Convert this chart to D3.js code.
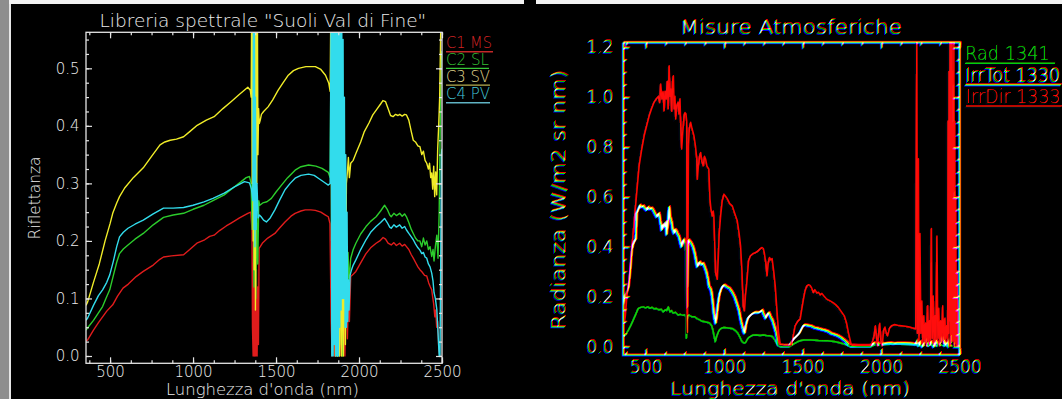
<!DOCTYPE html>
<html>
<head>
<meta charset="utf-8">
<script src="https://cdn.jsdelivr.net/npm/d3@7"></script>
<style>
  body { margin: 0; background: #000; overflow: hidden; }
  svg text { font-family: "DejaVu Sans ExtraLight", "DejaVu Sans", sans-serif; font-weight: 200; }
</style>
</head>
<body>
<div id="viz"></div>
<script>
// ---- left panel: soil reflectance library, [wavelength nm, reflectance]
const c1MS = [[355,0.026],[365,0.028],[400,0.045],[430,0.058],[455,0.068],[480,0.078],[516,0.089],[545,0.104],[578,0.118],[610,0.125],[657,0.138],[700,0.147],[760,0.158],[800,0.168],[822,0.172],[870,0.174],[943,0.176],[980,0.185],[1023,0.196],[1070,0.202],[1100,0.208],[1127,0.21],[1160,0.218],[1200,0.226],[1229,0.231],[1280,0.24],[1330,0.248],[1348,0.25],[1355,0.22],[1358,0.05],[1362,0.0],[1366,0.25],[1370,0.0],[1374,0.19],[1378,0.0],[1382,0.15],[1386,0.0],[1390,0.12],[1394,0.02],[1398,0.187],[1405,0.19],[1420,0.197],[1450,0.205],[1493,0.213],[1520,0.222],[1554,0.233],[1590,0.243],[1615,0.248],[1650,0.252],[1676,0.254],[1710,0.254],[1737,0.253],[1770,0.25],[1798,0.245],[1815,0.242],[1825,0.23],[1832,0.06],[1838,0.0],[1845,0.1],[1852,0.0],[1860,0.08],[1868,0.0],[1876,0.05],[1884,0.0],[1892,0.07],[1900,0.0],[1908,0.1],[1915,0.0],[1922,0.12],[1930,0.03],[1936,0.11],[1942,0.06],[1950,0.138],[1965,0.142],[1981,0.147],[2010,0.162],[2042,0.178],[2070,0.188],[2103,0.196],[2125,0.2],[2145,0.206],[2160,0.203],[2175,0.196],[2194,0.193],[2210,0.197],[2225,0.192],[2245,0.196],[2260,0.191],[2275,0.194],[2286,0.19],[2300,0.185],[2315,0.176],[2327,0.17],[2340,0.163],[2355,0.155],[2367,0.15],[2380,0.146],[2395,0.14],[2408,0.139],[2420,0.127],[2430,0.12],[2438,0.115],[2445,0.1],[2450,0.09],[2457,0.068],[2462,0.08],[2468,0.05],[2474,0.06],[2481,0.01],[2488,0.0],[2495,0.0]];
const c2SL = [[355,0.045],[365,0.049],[400,0.062],[430,0.075],[455,0.086],[475,0.1],[498,0.115],[520,0.14],[540,0.163],[557,0.178],[580,0.186],[608,0.193],[650,0.203],[700,0.213],[760,0.228],[822,0.241],[880,0.245],[943,0.248],[1000,0.255],[1066,0.262],[1120,0.27],[1188,0.28],[1240,0.292],[1290,0.303],[1320,0.31],[1340,0.312],[1350,0.3],[1356,0.22],[1362,0.3],[1367,0.12],[1372,0.28],[1378,0.1],[1384,0.25],[1390,0.16],[1396,0.27],[1402,0.262],[1420,0.266],[1445,0.268],[1472,0.274],[1500,0.285],[1533,0.297],[1570,0.31],[1615,0.323],[1650,0.329],[1696,0.332],[1740,0.33],[1777,0.326],[1815,0.319],[1826,0.31],[1832,0.56],[1838,0.1],[1845,0.6],[1852,0.05],[1860,0.6],[1868,0.0],[1876,0.5],[1884,0.02],[1892,0.45],[1900,0.0],[1908,0.35],[1915,0.05],[1922,0.25],[1928,0.1],[1934,0.18],[1940,0.13],[1950,0.17],[1965,0.185],[1981,0.196],[2010,0.212],[2042,0.225],[2070,0.234],[2103,0.242],[2130,0.252],[2154,0.262],[2170,0.255],[2185,0.245],[2194,0.242],[2210,0.248],[2225,0.244],[2245,0.248],[2260,0.243],[2275,0.247],[2286,0.242],[2300,0.232],[2315,0.22],[2327,0.213],[2340,0.205],[2355,0.2],[2367,0.2],[2378,0.19],[2388,0.205],[2398,0.193],[2408,0.2],[2418,0.185],[2428,0.19],[2438,0.173],[2446,0.185],[2452,0.165],[2460,0.19],[2469,0.21],[2476,0.17],[2483,0.25],[2490,0.42],[2496,0.52],[2500,0.53]];
const c3SV = [[355,0.088],[365,0.094],[400,0.128],[435,0.16],[470,0.2],[500,0.23],[516,0.248],[540,0.266],[557,0.277],[588,0.292],[640,0.31],[700,0.327],[750,0.347],[801,0.367],[830,0.372],[862,0.375],[900,0.377],[943,0.381],[980,0.39],[1025,0.401],[1080,0.41],[1127,0.416],[1180,0.43],[1229,0.442],[1280,0.455],[1330,0.467],[1345,0.462],[1350,0.45],[1353,0.6],[1356,0.3],[1359,0.6],[1362,0.2],[1365,0.6],[1368,0.15],[1372,0.6],[1376,0.08],[1380,0.6],[1384,0.3],[1388,0.58],[1391,0.35],[1395,0.43],[1399,0.404],[1405,0.41],[1412,0.42],[1425,0.425],[1452,0.433],[1480,0.445],[1513,0.462],[1545,0.476],[1574,0.488],[1605,0.496],[1635,0.5],[1680,0.503],[1737,0.503],[1770,0.498],[1798,0.488],[1818,0.474],[1826,0.46],[1830,0.6],[1835,0.2],[1840,0.6],[1846,0.05],[1852,0.6],[1858,0.0],[1864,0.4],[1870,0.0],[1876,0.3],[1882,0.0],[1888,0.2],[1894,0.0],[1900,0.15],[1906,0.0],[1912,0.25],[1918,0.02],[1924,0.3],[1930,0.32],[1936,0.345],[1942,0.31],[1950,0.335],[1965,0.34],[1981,0.352],[2010,0.372],[2032,0.39],[2060,0.405],[2083,0.419],[2110,0.43],[2130,0.438],[2144,0.444],[2160,0.442],[2175,0.43],[2190,0.418],[2205,0.416],[2220,0.42],[2235,0.418],[2245,0.42],[2260,0.417],[2275,0.42],[2286,0.419],[2300,0.41],[2315,0.39],[2327,0.375],[2340,0.372],[2355,0.365],[2367,0.364],[2378,0.35],[2388,0.356],[2398,0.34],[2408,0.335],[2418,0.325],[2425,0.335],[2432,0.31],[2438,0.318],[2444,0.29],[2450,0.33],[2456,0.277],[2462,0.32],[2468,0.28],[2474,0.36],[2480,0.4],[2486,0.45],[2492,0.56],[2497,0.6]];
const c4PV = [[355,0.062],[365,0.066],[400,0.088],[430,0.105],[455,0.115],[480,0.128],[498,0.141],[520,0.165],[540,0.19],[557,0.207],[580,0.215],[608,0.222],[650,0.229],[700,0.236],[760,0.247],[822,0.257],[880,0.257],[943,0.258],[1000,0.262],[1066,0.268],[1120,0.274],[1188,0.283],[1250,0.294],[1310,0.303],[1340,0.301],[1352,0.29],[1360,0.27],[1364,0.6],[1367,0.22],[1370,0.6],[1373,0.19],[1376,0.45],[1380,0.22],[1385,0.3],[1392,0.24],[1400,0.245],[1410,0.242],[1425,0.236],[1442,0.233],[1465,0.24],[1493,0.254],[1520,0.27],[1554,0.289],[1585,0.3],[1615,0.309],[1650,0.314],[1696,0.316],[1730,0.314],[1755,0.309],[1790,0.302],[1815,0.297],[1826,0.3],[1832,0.6],[1836,0.0],[1840,0.6],[1844,0.0],[1848,0.6],[1852,0.02],[1856,0.6],[1860,0.0],[1864,0.6],[1868,0.0],[1872,0.6],[1876,0.0],[1880,0.6],[1884,0.05],[1888,0.6],[1892,0.08],[1896,0.6],[1900,0.1],[1904,0.55],[1908,0.1],[1912,0.45],[1916,0.05],[1920,0.35],[1924,0.05],[1928,0.25],[1932,0.06],[1936,0.132],[1940,0.08],[1946,0.14],[1955,0.15],[1965,0.158],[1981,0.167],[2010,0.185],[2042,0.202],[2070,0.215],[2103,0.225],[2130,0.232],[2154,0.239],[2170,0.232],[2185,0.224],[2194,0.222],[2210,0.228],[2225,0.224],[2245,0.228],[2260,0.222],[2275,0.225],[2286,0.219],[2300,0.213],[2315,0.207],[2327,0.202],[2340,0.195],[2355,0.188],[2367,0.184],[2378,0.178],[2388,0.18],[2398,0.172],[2408,0.17],[2418,0.16],[2428,0.155],[2438,0.144],[2446,0.13],[2452,0.11],[2460,0.1],[2469,0.08],[2476,0.04],[2483,0.0],[2488,0.0],[2492,0.15],[2496,0.35],[2500,0.36]];
const soilNames = ["C1 MS", "C2 SL", "C3 SV", "C4 PV"];

// ---- right panel: atmospheric measurements, [wavelength nm, W/m2 sr nm]
const rad1341 = [[358,0.04],[375,0.05],[390,0.067],[405,0.085],[421,0.107],[437,0.13],[453,0.154],[470,0.158],[485,0.16],[500,0.156],[515,0.16],[527,0.154],[540,0.158],[555,0.152],[570,0.153],[585,0.148],[600,0.15],[612,0.14],[625,0.148],[635,0.145],[644,0.16],[655,0.14],[665,0.145],[675,0.135],[690,0.138],[707,0.127],[720,0.13],[739,0.126],[750,0.128],[757,0.12],[760,0.034],[763,0.1],[768,0.125],[777,0.127],[795,0.12],[813,0.12],[830,0.112],[845,0.108],[860,0.102],[876,0.1],[890,0.098],[908,0.095],[920,0.085],[929,0.067],[937,0.04],[944,0.02],[952,0.04],[961,0.055],[970,0.068],[982,0.074],[998,0.077],[1014,0.076],[1035,0.074],[1056,0.072],[1072,0.065],[1088,0.054],[1100,0.04],[1110,0.025],[1116,0.02],[1128,0.015],[1137,0.016],[1148,0.03],[1158,0.038],[1180,0.046],[1205,0.047],[1230,0.045],[1250,0.047],[1268,0.045],[1290,0.044],[1310,0.04],[1325,0.025],[1341,0.007],[1360,0.0],[1416,0.0],[1440,0.01],[1468,0.02],[1490,0.025],[1511,0.027],[1553,0.027],[1600,0.025],[1659,0.024],[1710,0.02],[1765,0.011],[1790,0.005],[1807,0.0],[1934,0.0],[1955,0.007],[1997,0.008],[2060,0.01],[2124,0.01],[2219,0.008],[2240,0.003],[2260,0.008],[2290,0.004],[2320,0.008],[2350,0.003],[2380,0.007],[2410,0.004],[2440,0.006],[2460,0.002],[2480,0.0],[2500,0.0]];
const irrTot1330 = [[358,0.17],[368,0.2],[380,0.22],[390,0.24],[400,0.3],[411,0.388],[420,0.41],[432,0.428],[437,0.43],[443,0.535],[452,0.55],[464,0.568],[475,0.56],[485,0.565],[495,0.555],[506,0.548],[516,0.56],[527,0.552],[538,0.556],[548,0.548],[558,0.535],[570,0.521],[578,0.53],[586,0.535],[594,0.5],[602,0.468],[612,0.49],[623,0.48],[628,0.5],[633,0.45],[640,0.49],[650,0.561],[656,0.52],[665,0.5],[672,0.47],[680,0.455],[688,0.47],[697,0.462],[705,0.45],[713,0.441],[720,0.42],[728,0.401],[736,0.42],[743,0.43],[750,0.42],[756,0.41],[760,0.25],[763,0.16],[766,0.3],[770,0.42],[775,0.428],[785,0.42],[792,0.414],[802,0.4],[813,0.374],[820,0.35],[828,0.321],[836,0.33],[845,0.34],[855,0.33],[866,0.334],[876,0.32],[887,0.3],[897,0.27],[904,0.24],[912,0.235],[919,0.22],[927,0.18],[934,0.134],[940,0.11],[946,0.094],[952,0.12],[961,0.174],[970,0.21],[982,0.234],[993,0.245],[1003,0.247],[1018,0.24],[1035,0.234],[1050,0.22],[1067,0.2],[1080,0.175],[1094,0.147],[1105,0.11],[1116,0.08],[1124,0.06],[1130,0.054],[1140,0.09],[1151,0.114],[1165,0.125],[1183,0.134],[1200,0.138],[1215,0.137],[1230,0.14],[1243,0.147],[1252,0.13],[1264,0.114],[1275,0.13],[1285,0.137],[1296,0.12],[1307,0.107],[1320,0.08],[1332,0.054],[1342,0.02],[1348,0.007],[1380,0.004],[1416,0.004],[1430,0.02],[1447,0.034],[1465,0.045],[1479,0.054],[1490,0.068],[1500,0.08],[1510,0.088],[1521,0.087],[1537,0.085],[1553,0.083],[1575,0.076],[1595,0.074],[1617,0.07],[1638,0.067],[1660,0.062],[1680,0.054],[1700,0.05],[1722,0.045],[1745,0.036],[1765,0.027],[1785,0.015],[1797,0.007],[1811,0.003],[1934,0.003],[1945,0.01],[1955,0.015],[1966,0.012],[1976,0.015],[1990,0.01],[2005,0.014],[2019,0.012],[2040,0.015],[2060,0.016],[2082,0.013],[2100,0.015],[2146,0.015],[2180,0.014],[2209,0.012],[2222,0.01],[2230,0.025],[2240,0.005],[2250,0.02],[2262,0.0],[2275,0.015],[2290,0.03],[2305,0.005],[2320,0.02],[2335,0.0],[2350,0.025],[2365,0.005],[2380,0.02],[2397,0.05],[2405,0.005],[2418,0.02],[2430,0.0],[2440,0.04],[2446,0.3],[2450,0.02],[2455,1.05],[2459,0.1],[2463,0.62],[2467,0.05],[2472,0.01],[2485,0.0],[2500,0.0]];
const irrDir1333 = [[358,0.09],[365,0.12],[375,0.2],[390,0.267],[405,0.38],[421,0.495],[437,0.61],[453,0.722],[470,0.79],[485,0.842],[500,0.88],[517,0.922],[532,0.95],[548,0.976],[562,0.99],[575,1.0],[584,0.975],[590,1.05],[598,0.99],[605,1.02],[612,0.942],[618,1.02],[625,0.99],[632,1.06],[638,0.95],[644,1.123],[650,1.0],[654,1.03],[660,0.94],[666,1.06],[671,1.083],[676,0.95],[681,1.0],[686,0.909],[692,0.96],[701,0.976],[707,0.93],[713,0.99],[718,0.88],[724,0.789],[730,0.85],[739,0.922],[745,0.935],[751,0.93],[756,0.9],[759,0.1],[761,0.054],[764,0.4],[767,0.8],[772,0.87],[781,0.896],[790,0.87],[802,0.842],[812,0.8],[820,0.75],[824,0.668],[830,0.72],[838,0.76],[845,0.775],[852,0.74],[862,0.722],[869,0.76],[876,0.749],[885,0.72],[897,0.708],[904,0.588],[910,0.55],[919,0.521],[925,0.54],[929,0.52],[935,0.4],[940,0.294],[946,0.28],[951,0.267],[957,0.35],[963,0.45],[972,0.521],[982,0.58],[993,0.608],[1003,0.6],[1014,0.59],[1030,0.57],[1046,0.561],[1062,0.53],[1078,0.501],[1090,0.45],[1099,0.401],[1108,0.3],[1116,0.16],[1124,0.14],[1130,0.2],[1137,0.24],[1150,0.34],[1162,0.361],[1178,0.37],[1194,0.374],[1210,0.38],[1225,0.39],[1236,0.394],[1244,0.39],[1251,0.37],[1260,0.33],[1268,0.281],[1275,0.33],[1283,0.354],[1292,0.345],[1300,0.35],[1310,0.3],[1320,0.24],[1330,0.15],[1341,0.054],[1352,0.007],[1380,0.005],[1426,0.005],[1435,0.04],[1447,0.08],[1465,0.1],[1479,0.107],[1490,0.15],[1500,0.187],[1510,0.22],[1521,0.24],[1532,0.245],[1542,0.242],[1552,0.232],[1563,0.214],[1572,0.225],[1585,0.212],[1595,0.215],[1606,0.205],[1617,0.21],[1630,0.2],[1648,0.187],[1670,0.18],[1691,0.172],[1705,0.165],[1722,0.154],[1740,0.138],[1760,0.12],[1775,0.09],[1786,0.054],[1803,0.007],[1850,0.005],[1900,0.005],[1934,0.005],[1942,0.02],[1950,0.04],[1958,0.08],[1966,0.03],[1972,0.0],[1980,0.06],[1986,0.09],[1993,0.02],[2002,0.0],[2010,0.06],[2019,0.075],[2028,0.05],[2036,0.04],[2048,0.07],[2060,0.08],[2080,0.085],[2100,0.082],[2124,0.08],[2150,0.078],[2177,0.075],[2200,0.07],[2215,0.068],[2222,1.25],[2226,0.05],[2232,0.75],[2236,0.02],[2242,0.45],[2248,0.05],[2254,0.18],[2260,0.01],[2266,0.12],[2272,0.02],[2278,0.09],[2284,0.0],[2290,0.16],[2296,0.02],[2302,0.1],[2308,0.01],[2315,0.47],[2320,0.03],[2326,0.2],[2332,0.01],[2338,0.12],[2344,0.02],[2350,0.44],[2356,0.03],[2362,0.15],[2368,0.0],[2374,0.1],[2380,0.02],[2387,0.16],[2393,0.01],[2400,0.11],[2406,0.03],[2412,0.08],[2418,0.02],[2422,0.9],[2425,0.05],[2428,1.1],[2431,0.1],[2434,1.25],[2437,0.0],[2440,1.25],[2443,0.02],[2446,1.25],[2449,0.05],[2452,1.1],[2455,0.02],[2458,1.25],[2461,0.0],[2464,0.9],[2467,0.02],[2470,0.6],[2474,0.0],[2478,0.3],[2482,0.0],[2490,0.0],[2500,0.0]];
const atmoNames = ["Rad 1341", "IrrTot 1330", "IrrDir 1333"];

const xTicks = [500, 1000, 1500, 2000, 2500];
const soilTicks = [0.0, 0.1, 0.2, 0.3, 0.4, 0.5];
const atmoTicks = [0.0, 0.2, 0.4, 0.6, 0.8, 1.0, 1.2];

const W = 1062, H = 399;

let svg = d3.select("#viz").append("svg")
    .attr("width", W)
    .attr("height", H);

const defs = svg.append("defs");

// colour fringing seen on the right-hand screenshot (red up, blue down)
const ca = defs.append("filter").attr("id", "ca")
    .attr("x", "-5%").attr("y", "-5%").attr("width", "110%").attr("height", "110%");
ca.append("feColorMatrix").attr("in", "SourceGraphic").attr("type", "matrix")
    .attr("values", "1 0 0 0 0  0 0 0 0 0  0 0 0 0 0  0 0 0 1 0").attr("result", "r");
ca.append("feOffset").attr("in", "r").attr("dx", 0.6).attr("dy", -1.2).attr("result", "r2");
ca.append("feColorMatrix").attr("in", "SourceGraphic").attr("type", "matrix")
    .attr("values", "0 0 0 0 0  0 1 0 0 0  0 0 0 0 0  0 0 0 1 0").attr("result", "g");
ca.append("feColorMatrix").attr("in", "SourceGraphic").attr("type", "matrix")
    .attr("values", "0 0 0 0 0  0 0 0 0 0  0 0 1 0 0  0 0 0 1 0").attr("result", "b");
ca.append("feOffset").attr("in", "b").attr("dx", -0.6).attr("dy", 1.2).attr("result", "b2");
ca.append("feBlend").attr("mode", "screen").attr("in", "r2").attr("in2", "g").attr("result", "rg");
ca.append("feBlend").attr("mode", "screen").attr("in", "rg").attr("in2", "b2");

// background and screenshot edges
svg.append("rect").attr("width", W).attr("height", H).attr("fill", "#000");
svg.append("rect").attr("x", 0).attr("y", 0).attr("width", 9).attr("height", H).attr("fill", "#8e8e8e");
svg.append("rect").attr("x", 9).attr("y", 0).attr("width", 2).attr("height", H).attr("fill", "#e6e6e6");
svg.append("rect").attr("x", 9).attr("y", 0).attr("width", 515).attr("height", 4).attr("fill", "#f2f2f2");
svg.append("rect").attr("x", 536).attr("y", 0).attr("width", W - 536).attr("height", 4).attr("fill", "#f2f2f2");

// squeeze a text horizontally to a given width (the plot font is narrow)
function fitText(t, x, y, len, anchor, rotate) {
    const nat = t.node().getComputedTextLength();
    const k = len / nat;
    const dx = anchor === "middle" ? -len / 2 : 0;
    t.attr("x", 0).attr("y", 0).attr("text-anchor", "start")
        .attr("transform", `translate(${x},${y})` + (rotate ? " rotate(-90)" : "") + ` translate(${dx},0) scale(${k},1)`);
}

function drawPanel(p) {
    const g = svg.append("g");

    const x = d3.scaleLinear().domain(p.xDomain).range([p.left, p.right]);
    const y = d3.scaleLinear().domain(p.yDomain).range([p.bottom, p.top]);

    defs.append("clipPath").attr("id", p.id + "-clip")
        .append("rect")
        .attr("x", p.left).attr("y", p.top)
        .attr("width", p.right - p.left).attr("height", p.bottom - p.top);

    // curves
    const line = d3.line().x(d => x(d[0])).y(d => y(d[1]));
    const plot = g.append("g").attr("clip-path", `url(#${p.id}-clip)`);
    p.series.forEach(s => {
        plot.append("path")
            .datum(s.data)
            .attr("fill", "none")
            .attr("stroke", s.color)
            .attr("stroke-width", s.width)
            .attr("stroke-linejoin", "round")
            .attr("d", line);
    });

    // axes: ticks point inward on all four sides
    const tl = p.tickLen, ml = p.tickLen / 2;
    const axes = g.append("g").attr("color", p.axisColor);

    const minorX = d3.range(p.xDomain[0] - p.xDomain[0] % 125 + 125, p.xDomain[1] + 1, 125);
    const minorY = d3.range(0, p.yDomain[1], p.yMinor).filter(v => v >= p.yDomain[0]);

    axes.append("g").attr("transform", `translate(0,${p.bottom})`)
        .call(d3.axisBottom(x).tickValues(minorX).tickSize(-ml).tickFormat(""));
    axes.append("g").attr("transform", `translate(0,${p.bottom})`)
        .call(d3.axisBottom(x).tickValues(xTicks).tickSize(-tl).tickPadding(p.xPad).tickFormat(d3.format("d")));
    axes.append("g").attr("transform", `translate(0,${p.top})`)
        .call(d3.axisTop(x).tickValues(minorX).tickSize(-ml).tickFormat(""));
    axes.append("g").attr("transform", `translate(0,${p.top})`)
        .call(d3.axisTop(x).tickValues(xTicks).tickSize(-tl).tickFormat(""));

    axes.append("g").attr("transform", `translate(${p.left},0)`)
        .call(d3.axisLeft(y).tickValues(minorY).tickSize(-ml).tickFormat(""));
    axes.append("g").attr("transform", `translate(${p.left},0)`)
        .call(d3.axisLeft(y).tickValues(p.yTicks).tickSize(-tl).tickPadding(p.yPad).tickFormat(d3.format(".1f")));
    axes.append("g").attr("transform", `translate(${p.right},0)`)
        .call(d3.axisRight(y).tickValues(minorY).tickSize(-ml).tickFormat(""));
    axes.append("g").attr("transform", `translate(${p.right},0)`)
        .call(d3.axisRight(y).tickValues(p.yTicks).tickSize(-tl).tickFormat(""));

    axes.selectAll(".domain").remove();
    axes.selectAll("g").attr("font-family", null).attr("font-size", null);
    axes.selectAll("text")
        .attr("font-size", p.tickFont)
        .attr("fill", p.textColor);
    axes.selectAll("line").attr("stroke-width", 1.2);

    g.append("rect")
        .attr("x", p.left).attr("y", p.top)
        .attr("width", p.right - p.left).attr("height", p.bottom - p.top)
        .attr("fill", "none").attr("stroke", p.axisColor).attr("stroke-width", 1.3);

    // titles
    const t1 = g.append("text").attr("font-size", p.title.size)
        .attr("fill", p.textColor).text(p.title.text);
    fitText(t1, p.title.x, p.title.y, p.title.len, "middle");

    const t2 = g.append("text").attr("font-size", p.xLabel.size)
        .attr("fill", p.textColor).text(p.xLabel.text);
    fitText(t2, p.xLabel.x, p.xLabel.y, p.xLabel.len, "middle");

    const t3 = g.append("text").attr("font-size", p.yLabel.size)
        .attr("fill", p.yLabel.color || p.textColor).text(p.yLabel.text);
    fitText(t3, p.yLabel.x, p.yLabel.y, p.yLabel.len, "middle", true);

    // legend: coloured names with an underline in the same colour
    p.legend.forEach((l, i) => {
        const ly = p.legendY[i];
        const t = g.append("text")
            .attr("font-size", p.legendFont)
            .attr("fill", l.text)
            .text(l.name);
        fitText(t, p.legendX, ly, l.len, "start");
        g.append("line")
            .attr("x1", p.legendX).attr("x2", p.legendX + l.ul)
            .attr("y1", ly + p.ulGap).attr("y2", ly + p.ulGap)
            .attr("stroke", l.line).attr("stroke-width", 1.4);
    });

    return g;
}

// left: spectral library
drawPanel({
    id: "soil",
    left: 86, right: 442, top: 32.3, bottom: 363.3,
    xDomain: [355, 2500], yDomain: [-0.0127, 0.5626],
    yTicks: soilTicks, yMinor: 0.025,
    tickLen: 6, tickFont: 15, xPad: 3.5, yPad: 6.5,
    axisColor: "#e4e4e4", textColor: "#ececec",
    series: [
        { data: c1MS, color: "#e01c1c", width: 1.4 },
        { data: c2SL, color: "#2ccc2c", width: 1.4 },
        { data: c3SV, color: "#f0ec28", width: 1.4 },
        { data: c4PV, color: "#32dcec", width: 1.4 }
    ],
    title: { text: "Libreria spettrale \"Suoli Val di Fine\"", x: 263, y: 27, size: 17, len: 327 },
    xLabel: { text: "Lunghezza d'onda (nm)", x: 262.5, y: 394.5, size: 16, len: 193 },
    yLabel: { text: "Riflettanza", x: 40, y: 198, size: 16, len: 83 },
    legendX: 446, legendY: [48.3, 65, 81.7, 99.3], legendFont: 15, ulGap: 3.4,
    legend: [
        { name: soilNames[0], text: "#d42424", line: "#c42828", len: 46, ul: 47 },
        { name: soilNames[1], text: "#34c034", line: "#38c838", len: 43, ul: 43 },
        { name: soilNames[2], text: "#e0d890", line: "#b8ae50", len: 44, ul: 44 },
        { name: soilNames[3], text: "#44c8d8", line: "#60b4c4", len: 44, ul: 44 }
    ]
});

// right: atmospheric measurements
const right = drawPanel({
    id: "atmo",
    left: 623.3, right: 959.5, top: 42.5, bottom: 355,
    xDomain: [358, 2500], yDomain: [-0.033, 1.22],
    yTicks: atmoTicks, yMinor: 0.05,
    tickLen: 6, tickFont: 17, xPad: 6, yPad: 10,
    axisColor: "#f4f4f4", textColor: "#f4f4f4",
    series: [
        { data: rad1341, color: "#12d012", width: 1.5 },
        { data: irrTot1330, color: "#ffffff", width: 1.8 },
        { data: irrDir1333, color: "#ff1010", width: 1.5 }
    ],
    title: { text: "Misure Atmosferiche", x: 791, y: 33.5, size: 20, len: 222 },
    xLabel: { text: "Lunghezza d'onda (nm)", x: 790, y: 395, size: 17.5, len: 240 },
    yLabel: { text: "Radianza (W/m2 sr nm)", x: 565, y: 200, size: 19, len: 260, color: "#f4f0d0" },
    legendX: 965, legendY: [60, 81.5, 103.5], legendFont: 19, ulGap: 3.4,
    legend: [
        { name: atmoNames[0], text: "#18d018", line: "#18d018", len: 85, ul: 90 },
        { name: atmoNames[1], text: "#ffffff", line: "#ffffff", len: 95, ul: 96 },
        { name: atmoNames[2], text: "#ff1818", line: "#ff1818", len: 95, ul: 96 }
    ]
});
right.attr("filter", "url(#ca)");
</script>
</body>
</html>
